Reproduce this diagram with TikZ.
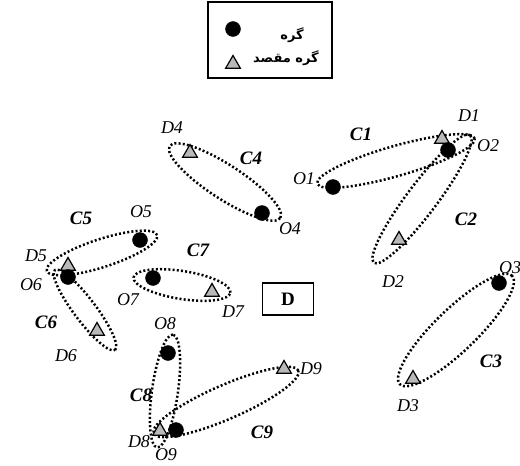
\documentclass[tikz,border=0pt]{standalone}
\usepackage{fontspec}
\setmainfont{Liberation Serif}
\newfontfamily\arabicfont[Script=Arabic]{DejaVu Sans}
\TeXXeTstate=1
\usetikzlibrary{shapes.geometric}
\begin{document}
\begin{tikzpicture}[x=1pt,y=-1pt,
  nd/.style={circle,fill=black,draw=black,inner sep=0pt,minimum size=15pt},
  dst/.style={regular polygon,regular polygon sides=3,fill=gray!55,draw=black,line width=1.2pt,inner sep=0pt,minimum size=17pt},
  cl/.style={ellipse,draw=black,line width=2.5pt,dash pattern=on 2pt off 2.2pt,inner sep=0pt},
  lab/.style={font=\fontsize{18}{18}\selectfont\itshape,inner sep=0pt},
  clab/.style={font=\fontsize{19}{19}\selectfont\bfseries\itshape,inner sep=0pt},
  fa/.style={font=\arabicfont\fontsize{13}{13}\selectfont\bfseries,inner sep=0pt}]
\useasboundingbox (0,0) rectangle (520,466);
% legend
\node[draw=black,line width=1.2pt,minimum width=124pt,minimum height=76pt,inner sep=0pt] (leg) at (270,40) {};
\node[nd] (lc) at (233,29) {};
\node[dst] (lt) at (233,64) {};
\node[fa,anchor=east] (lt1) at (304,35) {\beginR گره\endR};
\node[fa,anchor=east] (lt2) at (319,58) {\beginR گره مقصد\endR};
% D box
\node[draw=black,line width=1.2pt,minimum width=51pt,minimum height=32pt,inner sep=0pt,font=\fontsize{19}{19}\selectfont\bfseries] (dbox) at (288,299) {D};
% clusters (ellipses)
\node[cl,minimum width=164pt,minimum height=30pt,rotate=16] (c1) at (396,161) {};
\node[cl,minimum width=160pt,minimum height=30pt,rotate=53] (c2) at (422,199) {};
\node[cl,minimum width=156pt,minimum height=42pt,rotate=44] (c3) at (456,330) {};
\node[cl,minimum width=132pt,minimum height=34pt,rotate=-33] (c4) at (225,182) {};
\node[cl,minimum width=116pt,minimum height=28pt,rotate=18] (c5) at (102,253) {};
\node[cl,minimum width=100pt,minimum height=22pt,rotate=-53] (c6) at (85,310) {};
\node[cl,minimum width=98pt,minimum height=28pt,rotate=-9] (c7) at (182,285) {};
\node[cl,minimum width=114pt,minimum height=26pt,rotate=82] (c8) at (165,391) {};
\node[cl,minimum width=158pt,minimum height=34pt,rotate=23.5] (c9) at (226,402) {};
% points
\node[dst] (d1) at (442,139) {};
\node[nd] (o2) at (448,150) {};
\node[nd] (o1) at (333,187) {};
\node[dst] (d2) at (399,240) {};
\node[nd] (o3) at (499,283) {};
\node[dst] (d3) at (413,379) {};
\node[dst] (d4) at (190,153) {};
\node[nd] (o4) at (262,213) {};
\node[nd] (o5) at (140,240) {};
\node[dst] (d5) at (68,266) {};
\node[nd] (o6) at (68,277) {};
\node[dst] (d6) at (97,331) {};
\node[nd] (o7) at (153,278) {};
\node[dst] (d7) at (212,292) {};
\node[nd] (o8) at (168,353) {};
\node[dst] (d8) at (160,431) {};
\node[nd] (o9) at (176,430) {};
\node[dst] (d9) at (284,369) {};
% labels
\node[lab] (ld1) at (469,116) {D1};
\node[lab] (lo2) at (488,146) {O2};
\node[lab] (lo1) at (304,179) {O1};
\node[clab] (lc1) at (361,134) {C1};
\node[clab] (lc2) at (466,219) {C2};
\node[lab] (ld2) at (393,282) {D2};
\node[lab] (lo3) at (510,268) {O3};
\node[clab] (lc3) at (491,361) {C3};
\node[lab] (ld3) at (408,406) {D3};
\node[lab] (ld4) at (172,128) {D4};
\node[clab] (lc4) at (251,158) {C4};
\node[lab] (lo4) at (290,229) {O4};
\node[clab] (lc5) at (81,218) {C5};
\node[lab] (lo5) at (141,212) {O5};
\node[lab] (ld5) at (36,256) {D5};
\node[lab] (lo6) at (31,285) {O6};
\node[clab] (lc6) at (46,322) {C6};
\node[lab] (ld6) at (66,356) {D6};
\node[clab] (lc7) at (198,250) {C7};
\node[lab] (lo7) at (128,300) {O7};
\node[lab] (ld7) at (233,312) {D7};
\node[lab] (lo8) at (165,324) {O8};
\node[clab] (lc8) at (141,395) {C8};
\node[lab] (ld8) at (139,442) {D8};
\node[lab] (ld9) at (311,369) {D9};
\node[clab] (lc9) at (262,432) {C9};
\node[lab] (lo9) at (166,455) {O9};
\end{tikzpicture}
\end{document}
